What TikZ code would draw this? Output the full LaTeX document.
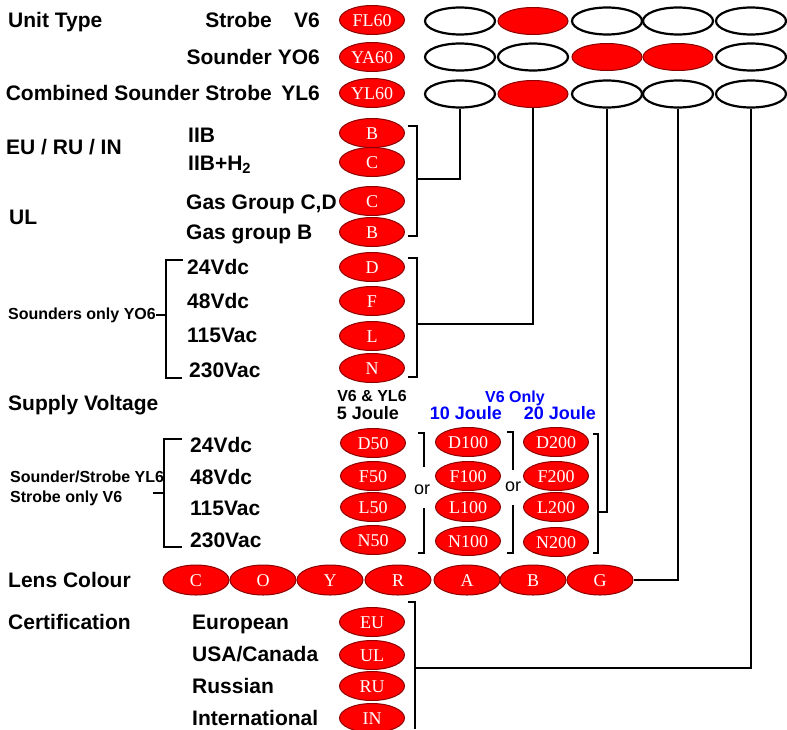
\documentclass[tikz,border=0pt]{standalone}
\usepackage{fontspec}
\setmainfont{Liberation Sans}
\newfontfamily\pillfont{Liberation Serif}
\usetikzlibrary{shapes.geometric}
\tikzset{
	lbl/.style={inner sep=0pt, anchor=west, text height=15pt, text depth=0pt, font=\fontsize{21}{24}\selectfont\bfseries},
	lble/.style={lbl, anchor=east},
	sublbl/.style={inner sep=0pt, anchor=west, align=left, font=\fontsize{16}{20}\selectfont\bfseries},
	head/.style={inner sep=0pt, text height=13pt, text depth=0pt, font=\fontsize{18}{20}\selectfont\bfseries},
	pill/.style={ellipse, inner sep=0pt, minimum width=65pt, minimum height=29pt, fill=red, draw=red!55!black, line width=1pt, text=white, text height=12pt, text depth=0pt, font=\fontsize{18}{18}\selectfont\pillfont},
	slot/.style={ellipse, inner sep=0pt, minimum width=70pt, minimum height=27pt, draw, line width=2.2pt},
	slotred/.style={slot, fill=red, draw=red!55!black, line width=1pt},
	brk/.style={line width=1.4pt},
	wire/.style={line width=1.2pt}
}
\begin{document}
\begin{tikzpicture}[x=1pt, y=-1pt]
	\useasboundingbox (0,0) rectangle (787,729);
	\node[lbl] (unittype) at (8,20) {Unit Type};
	\node[lble] at (272,20) {Strobe};
	\node[lble] at (272,57) {Sounder};
	\node[lble] at (272,93) {Combined Sounder Strobe};
	\node[lble] at (320,20) {V6};
	\node[lble] at (320,57) {YO6};
	\node[lble] at (320,93) {YL6};
	\node[pill] (fl60) at (372,20) {FL60};
	\node[pill] (ya60) at (372,57) {YA60};
	\node[pill] (yl60) at (372,93) {YL60};
	\node[slot] (v1) at (460,21) {};
	\node[slotred] (v2) at (533,21) {};
	\node[slot] (v3) at (607,21) {};
	\node[slot] (v4) at (678,21) {};
	\node[slot] (v5) at (751,21) {};
	\node[slot] (yo1) at (460,57) {};
	\node[slot] (yo2) at (533,57) {};
	\node[slotred] (yo3) at (607,57) {};
	\node[slotred] (yo4) at (678,57) {};
	\node[slot] (yo5) at (751,57) {};
	\node[slot] (yl1) at (460,94) {};
	\node[slotred] (yl2) at (533,94) {};
	\node[slot] (yl3) at (607,94) {};
	\node[slot] (yl4) at (678,94) {};
	\node[slot] (yl5) at (751,94) {};

	\node[lbl] at (6,147) {EU / RU / IN};
	\node[lbl] at (9,217) {UL};
	\node[lbl] at (188,135) {IIB};
	\node[lbl] at (188,163) {IIB+H\textsubscript{2}};
	\node[lbl] at (186,202) {Gas Group C,D};
	\node[lbl] at (186,232) {Gas group B};
	\node[pill] (gasB) at (372,133) {B};
	\node[pill] (gasC) at (372,162) {C};
	\node[pill] (ulC) at (372,201) {C};
	\node[pill] (ulB) at (372,232) {B};
	\draw[brk] (408,126) -- (417,126) -- (417,236) -- (408,236);
	\coordinate (gasmid) at (417,179);
	\draw[wire] (gasmid) -| (yl1.south);

	\node[sublbl] (sndonly) at (8,315) {Sounders only YO6};
	\draw[brk] (183,260) -- (166,260) -- (166,378) -- (182,378);
	\draw[brk] (sndonly.east) -- (166,315);
	\node[lbl] at (187,267) {24Vdc};
	\node[lbl] at (187,301) {48Vdc};
	\node[lbl] at (187,335) {115Vac};
	\node[lbl] at (189,370) {230Vac};
	\node[pill] (sD) at (372,267) {D};
	\node[pill] (sF) at (372,301) {F};
	\node[pill] (sL) at (372,336) {L};
	\node[pill] (sN) at (372,368) {N};
	\draw[brk] (408,258) -- (417,258) -- (417,377) -- (408,377);
	\coordinate (sndmid) at (417,324);
	\draw[wire] (sndmid) -| (yl2.south);

	\node[lbl] at (8,403) {Supply Voltage};
	\node[head, font=\fontsize{16}{18}\selectfont\bfseries] at (372,395) {V6 \& YL6};
	\node[head] at (368,413) {5 Joule};
	\node[head, text=blue, font=\fontsize{16}{18}\selectfont\bfseries] at (515,396) {V6 Only};
	\node[head, text=blue] at (466,413) {10 Joule};
	\node[head, text=blue] at (560,413) {20 Joule};
	\node[sublbl] (combo) at (10,488) {Sounder/Strobe YL6\\Strobe only V6};
	\draw[brk] (182,439) -- (164,439) -- (164,547) -- (182,547);
	\draw[brk] (153,493) -- (164,493);
	\node[lbl] at (190,445) {24Vdc};
	\node[lbl] at (190,477) {48Vdc};
	\node[lbl] at (190,508) {115Vac};
	\node[lbl] at (190,540) {230Vac};
	\node[pill] (d50) at (373,443) {D50};
	\node[pill] (f50) at (373,476) {F50};
	\node[pill] (l50) at (373,507) {L50};
	\node[pill] (n50) at (373,540) {N50};
	\node[pill] (d100) at (468,442) {D100};
	\node[pill] (f100) at (468,476) {F100};
	\node[pill] (l100) at (468,507) {L100};
	\node[pill] (n100) at (468,541) {N100};
	\node[pill] (d200) at (556,442) {D200};
	\node[pill] (f200) at (556,476) {F200};
	\node[pill] (l200) at (556,507) {L200};
	\node[pill] (n200) at (556,542) {N200};
	\draw[brk] (418,433) -- (424,433) -- (424,467);
	\draw[brk] (424,508) -- (424,553) -- (418,553);
	\node[font=\fontsize{18}{18}\selectfont, inner sep=0pt] at (422,490) {or};
	\draw[brk] (507,432) -- (513,432) -- (513,470);
	\draw[brk] (513,505) -- (513,553) -- (507,553);
	\node[font=\fontsize{18}{18}\selectfont, inner sep=0pt] at (513,487) {or};
	\draw[brk] (593,434) -- (598,434) -- (598,553) -- (593,553);
	\coordinate (joulemid) at (598,512);
	\draw[wire] (joulemid) -| (yl3.south);

	\node[lbl] at (8,580) {Lens Colour};
	\foreach \c/\x in {C/196,O/263,Y/330,R/398,A/467,B/533,G/600}
		\node[pill, minimum width=66pt, minimum height=30pt] (lens\c) at (\x,580) {\c};
	\draw[wire] (lensG.east) -| (yl4.south);

	\node[lbl] at (8,622) {Certification};
	\node[lbl] at (192,622) {European};
	\node[lbl] at (192,654) {USA/Canada};
	\node[lbl] at (192,686) {Russian};
	\node[lbl] at (192,718) {International};
	\node[pill] (certEU) at (372,622) {EU};
	\node[pill] (certUL) at (372,655) {UL};
	\node[pill] (certRU) at (372,686) {RU};
	\node[pill] (certIN) at (372,718) {IN};
	\draw[brk] (408,602) -- (415,602) -- (415,729);
	\coordinate (certmid) at (415,668);
	\draw[wire] (certmid) -| (yl5.south);
\end{tikzpicture}
\end{document}
